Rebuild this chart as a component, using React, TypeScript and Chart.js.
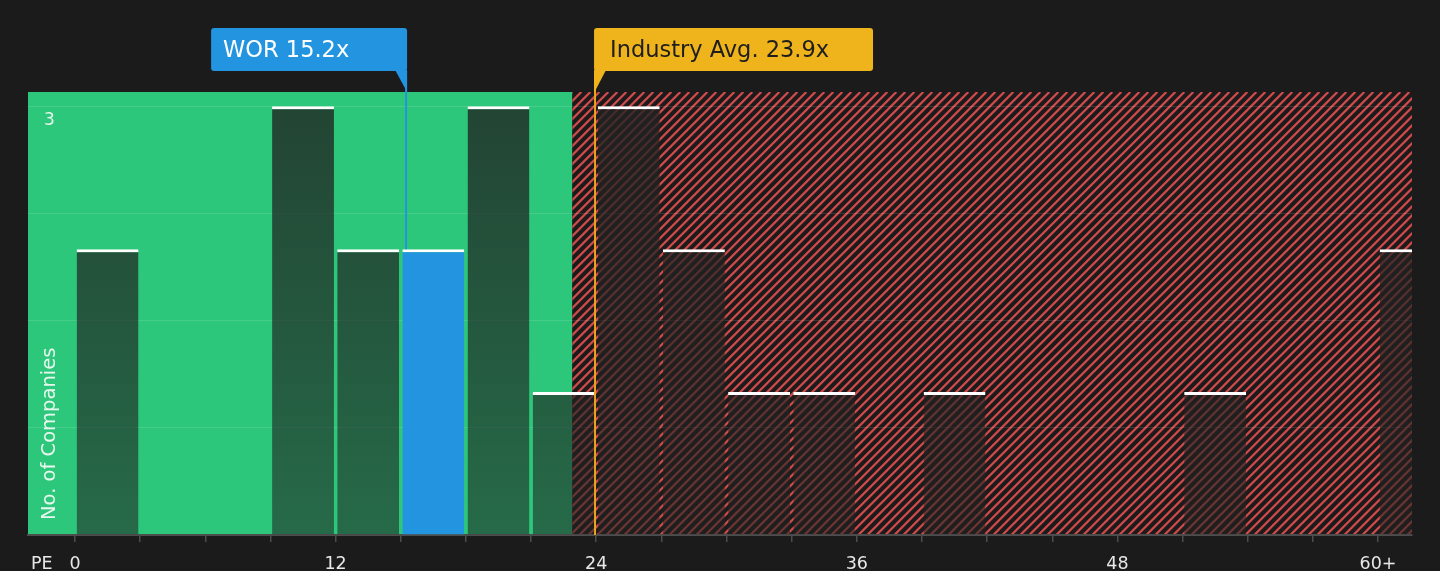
import { useEffect, useRef } from "react";
import { Chart, registerables } from "chart.js";

Chart.register(...registerables);
Chart.defaults.font.family = "DejaVu Sans";

// PE histogram bins (start of each 3x wide bin) and how many companies fall in them
const binStarts = [0, 9, 12, 15, 18, 21, 24, 27, 30, 33, 39, 51, 60];
const companyCounts = [2, 3, 2, 2, 3, 1, 3, 2, 1, 1, 1, 1, 2];
const binWidth = 3;

const xTickValues = [0, 3, 6, 9, 12, 15, 18, 21, 24, 27, 30, 33, 36, 39, 42, 45, 48, 51, 54, 57, 60];
const xTickLabels: Record<number, string> = { 0: "0", 12: "12", 24: "24", 36: "36", 48: "48", 60: "60+" };
const yTickValues = [0, 0.75, 1.5, 2.25, 3];
const yTickLabels: Record<number, string> = { 3: "3" };

const companyName = "WOR";
const companyPE = 15.2;
const industryAvg = 23.9;
const fairValueEdge = 22.9;

const BG = "#1b1b1b";
const GREEN = "#2dc77b";
const BLUE = "#2394e0";
const GOLD = "#efb31b";
const ORANGE_LINE = "#e9a31c";
const HATCH = "#cf4b4b";

function roundRect(ctx: CanvasRenderingContext2D, x: number, y: number, w: number, h: number, r: number) {
  ctx.beginPath();
  ctx.moveTo(x + r, y);
  ctx.lineTo(x + w - r, y);
  ctx.quadraticCurveTo(x + w, y, x + w, y + r);
  ctx.lineTo(x + w, y + h - r);
  ctx.quadraticCurveTo(x + w, y + h, x + w - r, y + h);
  ctx.lineTo(x + r, y + h);
  ctx.quadraticCurveTo(x, y + h, x, y + h - r);
  ctx.lineTo(x, y + r);
  ctx.quadraticCurveTo(x, y, x + r, y);
  ctx.closePath();
}

// green "fair" zone and red hatched "expensive" zone behind everything
const zonesPlugin = {
  id: "zones",
  beforeDraw(chart: any) {
    const { ctx, chartArea, scales } = chart;
    const { left, right, top, bottom } = chartArea;
    const edge = scales.x.getPixelForValue(fairValueEdge);
    ctx.save();
    ctx.fillStyle = GREEN;
    ctx.fillRect(left, top, edge - left, bottom - top);

    ctx.beginPath();
    ctx.rect(edge, top, right - edge, bottom - top);
    ctx.clip();
    ctx.fillStyle = "#1c1a1a";
    ctx.fillRect(edge, top, right - edge, bottom - top);
    const h = bottom - top;
    const spacing = 9;
    ctx.strokeStyle = HATCH;
    ctx.lineWidth = 2.3;
    ctx.beginPath();
    for (let x = edge - h; x < right + spacing; x += spacing) {
      ctx.moveTo(x, bottom);
      ctx.lineTo(x + h, top);
    }
    ctx.stroke();
    ctx.restore();
  },
};

// value markers, labels and the axis captions
const markersPlugin = {
  id: "markers",
  afterDraw(chart: any) {
    const { ctx, chartArea, scales } = chart;
    const x = scales.x;
    const y = scales.y;
    const boxTop = 28;
    const boxH = 43;
    const boxBottom = boxTop + boxH;
    ctx.save();

    // company marker
    const cx = x.getPixelForValue(companyPE) + 1;
    ctx.strokeStyle = BLUE;
    ctx.lineWidth = 2;
    ctx.beginPath();
    ctx.moveTo(cx, boxBottom);
    ctx.lineTo(cx, y.getPixelForValue(2));
    ctx.stroke();
    ctx.fillStyle = BLUE;
    roundRect(ctx, cx + 1 - 196, boxTop, 196, boxH, 3);
    ctx.fill();
    ctx.beginPath();
    ctx.moveTo(cx - 11, boxBottom - 1);
    ctx.lineTo(cx + 1, boxBottom - 1);
    ctx.lineTo(cx + 1, chartArea.top);
    ctx.closePath();
    ctx.fill();
    ctx.font = "22.5px DejaVu Sans";
    ctx.textBaseline = "middle";
    ctx.textAlign = "left";
    ctx.fillStyle = "#ffffff";
    ctx.fillText(`${companyName} ${companyPE.toFixed(1)}x`, cx + 1 - 196 + 12, boxTop + boxH / 2 + 2);

    // industry average marker
    const ix = x.getPixelForValue(industryAvg) + 1;
    ctx.strokeStyle = ORANGE_LINE;
    ctx.lineWidth = 2;
    ctx.beginPath();
    ctx.moveTo(ix, boxBottom);
    ctx.lineTo(ix, chartArea.bottom);
    ctx.stroke();
    ctx.fillStyle = GOLD;
    roundRect(ctx, ix - 1, boxTop, 279, boxH, 3);
    ctx.fill();
    ctx.beginPath();
    ctx.moveTo(ix - 1, boxBottom - 1);
    ctx.lineTo(ix + 11, boxBottom - 1);
    ctx.lineTo(ix - 1, chartArea.top + 1);
    ctx.closePath();
    ctx.fill();
    ctx.fillStyle = "#1e1e1e";
    ctx.fillText(`Industry Avg. ${industryAvg.toFixed(1)}x`, ix + 15, boxTop + boxH / 2 + 2);

    // axis captions
    ctx.fillStyle = "#e6f7ed";
    ctx.font = "19.5px DejaVu Sans";
    ctx.translate(chartArea.left + 22, chartArea.bottom - 15);
    ctx.rotate(-Math.PI / 2);
    ctx.fillText("No. of Companies", 0, 0);
    ctx.setTransform(1, 0, 0, 1, 0, 0);
    ctx.restore();

    ctx.save();
    ctx.fillStyle = "#e8e8e8";
    ctx.font = "17.5px DejaVu Sans";
    ctx.textBaseline = "middle";
    ctx.textAlign = "left";
    ctx.fillText("PE", chartArea.left + 3, chartArea.bottom + 29);
    ctx.restore();
  },
};

export default function App() {
  const canvasRef = useRef<HTMLCanvasElement | null>(null);
  const chartRef = useRef<Chart | null>(null);

  useEffect(() => {
    if (!canvasRef.current) return;
    document.body.style.margin = "0";

    const barFill = (c: any) => {
      const i = c.dataIndex;
      const start = binStarts[i];
      if (companyPE >= start && companyPE < start + binWidth) return BLUE;
      const { ctx, chartArea } = c.chart;
      if (!chartArea) return "rgba(32,34,33,0.7)";
      const g = ctx.createLinearGradient(0, chartArea.top, 0, chartArea.bottom);
      g.addColorStop(0, "rgba(32,34,33,0.8)");
      g.addColorStop(1, "rgba(32,34,33,0.56)");
      return g;
    };

    chartRef.current = new Chart(canvasRef.current, {
      type: "bar",
      data: {
        datasets: [
          {
            data: binStarts.map((s, i) => ({ x: s + binWidth / 2, y: companyCounts[i] })),
            backgroundColor: barFill,
            borderColor: "#ffffff",
            borderWidth: { top: 3, right: 0, bottom: 0, left: 0 },
            borderSkipped: "start",
            categoryPercentage: 1,
            barPercentage: 0.95,
          },
        ],
      },
      options: {
        animation: false,
        responsive: true,
        maintainAspectRatio: false,
        layout: { padding: { left: 28, right: 28, top: 92, bottom: 0 } },
        plugins: { legend: { display: false }, tooltip: { enabled: false } },
        scales: {
          x: {
            type: "linear",
            offset: false,
            min: -2.164,
            max: 61.565,
            afterFit: (s: any) => {
              s.height = 36;
            },
            afterBuildTicks: (s: any) => {
              s.ticks = xTickValues.map((v) => ({ value: v }));
            },
            ticks: {
              autoSkip: false,
              maxRotation: 0,
              padding: 12,
              color: "#e8e8e8",
              font: { size: 17.5 },
              callback: (v: any) => xTickLabels[v] ?? "",
            },
            grid: {
              offset: false,
              drawOnChartArea: false,
              drawTicks: true,
              tickLength: 7,
              color: "#4d4d4d",
              lineWidth: 1.5,
            },
            border: { display: true, color: "#4d4d4d", width: 2 },
          },
          y: {
            min: 0,
            max: 3.1,
            afterFit: (s: any) => {
              s.width = 0;
            },
            afterBuildTicks: (s: any) => {
              s.ticks = yTickValues.map((v) => ({ value: v }));
            },
            ticks: {
              mirror: true,
              padding: 16,
              labelOffset: 14,
              color: "#e6f7ed",
              font: { size: 17 },
              callback: (v: any) => yTickLabels[v] ?? "",
            },
            grid: { drawTicks: false, color: "rgba(255,255,255,0.12)", lineWidth: 1 },
            border: { display: false },
          },
        },
      } as any,
      plugins: [zonesPlugin, markersPlugin],
    });

    return () => {
      chartRef.current?.destroy();
      chartRef.current = null;
    };
  }, []);

  return (
    <div style={{ position: "fixed", left: 0, top: 0, width: 1440, height: 571, background: BG }}>
      <canvas ref={canvasRef}></canvas>
    </div>
  );
}
